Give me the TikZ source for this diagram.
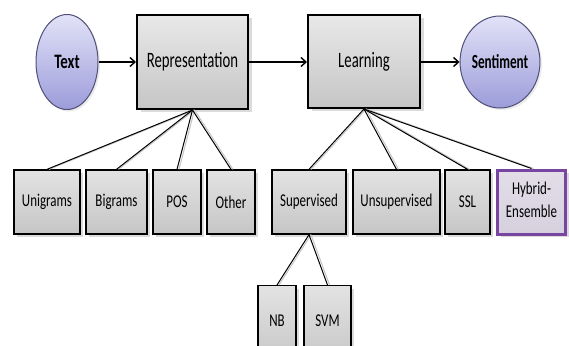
\documentclass[tikz,border=0pt]{standalone}
\usepackage{fontspec}
\usepackage{graphicx}
\setmainfont{Carlito}
\usetikzlibrary{arrows.meta,shadows,shapes.geometric}
\definecolor{elltop}{RGB}{226,226,248}
\definecolor{ellbot}{RGB}{156,156,218}
\definecolor{elledge}{RGB}{80,80,120}
\definecolor{hyb}{RGB}{120,70,160}
\definecolor{hybfill}{RGB}{214,208,222}
\newcommand{\sq}[2][0.72]{\scalebox{#1}[1]{#2}}
\tikzset{
  bigbox/.style={rectangle, draw=black, line width=2pt, top color=gray!18, bottom color=gray!45,
     drop shadow={shadow xshift=4pt, shadow yshift=-3pt, fill=gray!55}, inner sep=0pt,
     font=\fontsize{22}{26}\selectfont},
  smallbox/.style={rectangle, draw=black, line width=1.3pt, top color=gray!22, bottom color=gray!45,
     drop shadow={shadow xshift=3pt, shadow yshift=-3pt, fill=gray!55}, inner sep=0pt,
     minimum height=64pt, font=\fontsize{18}{22}\selectfont},
  ell/.style={ellipse, draw=elledge, line width=1pt, top color=elltop, bottom color=ellbot,
     drop shadow={shadow xshift=2pt, shadow yshift=-2pt, fill=gray!30}, inner sep=0pt,
     font=\bfseries\fontsize{20.5}{24}\selectfont},
  flow/.style={line width=1.6pt, -{Straight Barb[length=5pt,width=9pt,line width=1.4pt]}},
  linkg/.style={gray!45, line width=1pt},
  linkb/.style={black, line width=1pt},
}
\newcommand{\link}[2]{%
  \draw[linkg] ([xshift=2pt]#1.south) -- ([xshift=2pt]#2.north);
  \draw[linkb] (#1.south) -- (#2.north);}
\begin{document}
\begin{tikzpicture}[x=1pt,y=-1pt]
\useasboundingbox (0,0) rectangle (569,345);
\clip (0,0) rectangle (569,345);
\fill[white] (0,0) rectangle (569,345);

\node[ell, minimum width=62pt, minimum height=95pt] (text) at (67,62) {\sq[0.73]{Text}};
\node[ell, minimum width=60pt, minimum height=92pt, font=\bfseries\fontsize{20}{24}\selectfont] (sent) at (500,62) {\sq[0.66]{Sentiment}};
\node[bigbox, minimum width=111pt, minimum height=94pt] (rep) at (192.5,62) {\sq[0.67]{Representation}};
\node[bigbox, minimum width=112pt, minimum height=93pt] (learn) at (364,61.5) {\sq[0.67]{Learning}};

\draw[flow] (text) -- (rep.west |- text);
\draw[flow] (rep.east |- text) -- (learn.west |- text);
\draw[flow] (learn.east |- text) -- (sent.west);

\node[smallbox, minimum width=66pt] (uni) at (47,202) {\sq{Unigrams}};
\node[smallbox, minimum width=61pt] (bi) at (116.5,202) {\sq{Bigrams}};
\node[smallbox, minimum width=48pt] (pos) at (177,202) {\sq{POS}};
\node[smallbox, minimum width=48pt] (oth) at (231,202) {\sq{Other}};
\node[smallbox, minimum width=74pt] (sup) at (309,202) {\sq{Supervised}};
\node[smallbox, minimum width=87pt] (uns) at (396.5,202) {\sq{Unsupervised}};
\node[smallbox, minimum width=45pt] (ssl) at (467.5,202) {\sq{SSL}};
\node[smallbox, minimum width=68pt, draw=hyb, line width=3pt, top color=hybfill!70!white, bottom color=hybfill] (hyb) at (531.5,202)
  {\sq{\begin{tabular}{@{}c@{}}Hybrid-\\[1pt]Ensemble\end{tabular}}};

\node[smallbox, minimum width=38pt, minimum height=80pt, anchor=north] (nb) at (277,285) {};
\node at (277,321) {\fontsize{18}{22}\selectfont\sq{NB}};
\node[smallbox, minimum width=47pt, minimum height=80pt, anchor=north] (svm) at (327.5,285) {};
\node at (327.5,321) {\fontsize{18}{22}\selectfont\sq{SVM}};

\link{rep}{uni}
\link{rep}{bi}
\link{rep}{pos}
\link{rep}{oth}
\link{learn}{sup}
\link{learn}{uns}
\link{learn}{ssl}
\link{learn}{hyb}
\link{sup}{nb}
\link{sup}{svm}
\end{tikzpicture}
\end{document}
